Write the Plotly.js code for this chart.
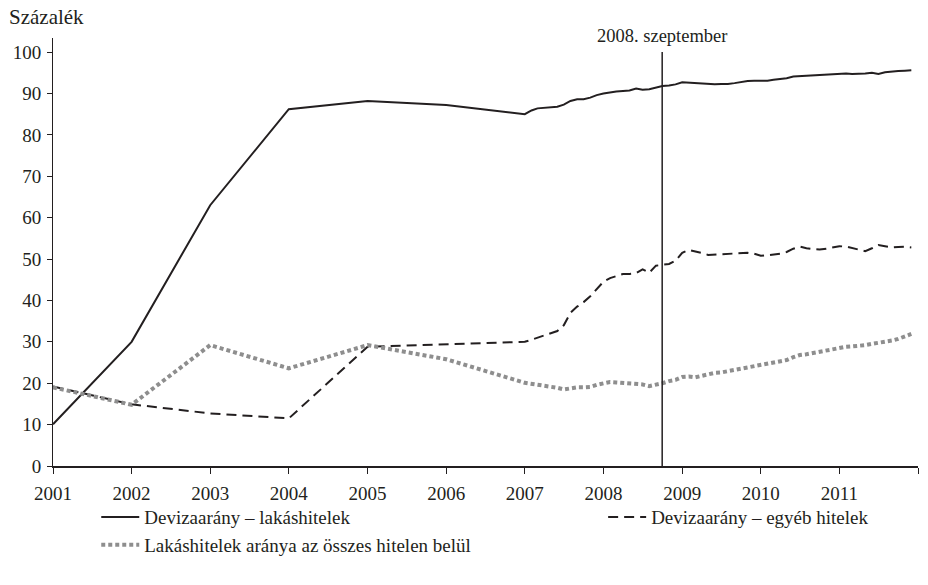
<!DOCTYPE html>
<html>
<head>
<meta charset="utf-8">
<script src="https://cdn.plot.ly/plotly-3.0.1.min.js"></script>
<style>html,body{margin:0;padding:0;background:#fff;}#chart{width:928px;height:585px;}</style>
</head>
<body>
<div id="chart"></div>
<script>
// ---- data ----
const annualDates = ['2001-01-01','2002-01-01','2003-01-01','2004-01-01','2005-01-01','2006-01-01'];
const monthlyStartYear = 2007;
const monthlyCount = 60;

const lakasAnnual = [10.1, 30.0, 63.0, 86.2, 88.2, 87.2];
const lakasMonthly = [
  85.0, 85.9, 86.4, 86.5, 86.6, 86.8, 87.3, 88.2, 88.6, 88.6, 89.0, 89.6,
  90.0, 90.3, 90.5, 90.6, 90.7, 91.2, 90.9, 91.0, 91.5, 91.8, 91.9, 92.2,
  92.7, 92.6, 92.5, 92.4, 92.2, 92.2, 92.3, 92.3, 92.5, 92.8, 93.0, 93.1,
  93.1, 93.1, 93.3, 93.5, 93.7, 94.1, 94.2, 94.3, 94.4, 94.5, 94.6, 94.7,
  94.8, 94.8, 94.7, 94.7, 94.8, 95.0, 94.7, 95.1, 95.3, 95.4, 95.5, 95.6
];

const egyebAnnual = [19.2, 14.9, 12.7, 11.5, 28.8, 29.4];
const egyebMonthly = [
  30.0, 30.5, 31.0, 31.5, 32.1, 32.6, 34.0, 37.0, 38.5, 39.6, 41.0, 42.6,
  44.5, 45.4, 45.9, 46.4, 46.4, 46.6, 47.5, 46.7, 48.4, 48.6, 48.8, 49.6,
  51.5, 52.2, 51.9, 51.5, 51.0, 51.1, 51.2, 51.2, 51.3, 51.4, 51.5, 51.3,
  50.8, 50.9, 51.1, 51.3, 51.7, 52.5, 53.0, 52.6, 52.4, 52.3, 52.5, 52.8,
  53.1, 53.0, 52.7, 52.2, 51.9, 52.6, 53.4, 53.1, 52.8, 52.9, 53.0, 52.8
];

const aranyAnnual = [19.0, 14.8, 29.2, 23.6, 29.2, 25.8];
const aranyMonthly = [
  20.1, 19.9, 19.6, 19.4, 19.2, 18.9, 18.5, 18.8, 19.0, 19.0, 19.1, 19.6,
  20.0, 20.3, 20.2, 20.1, 20.0, 20.0, 19.7, 19.3, 19.6, 20.0, 20.5, 20.8,
  21.5, 21.6, 21.4, 21.8, 22.2, 22.5, 22.6, 22.9, 23.2, 23.5, 23.8, 24.0,
  24.2, 24.5, 24.9, 25.3, 25.6, 26.3, 26.8, 27.0, 27.3, 27.6, 27.9, 28.3,
  28.6, 28.8, 28.9, 29.0, 29.2, 29.5, 29.7, 30.0, 30.3, 30.7, 31.2, 31.9
];

const seriesNames = ['Devizaarány – lakáshitelek', 'Devizaarány – egyéb hitelek', 'Lakáshitelek aránya az összes hitelen belül'];
const tickYears = ['2001','2002','2003','2004','2005','2006','2007','2008','2009','2010','2011','2012'];
const tickLabels = ['2001','2002','2003','2004','2005','2006','2007','2008','2009','2010','2011',''];
const eventDate = '2008-09-30';
const eventLabel = '2008. szeptember';
const yTitle = 'Százalék';

// ---- build ----
const monthlyDates = [];
for (let i = 0; i < monthlyCount; i++) {
  const y = monthlyStartYear + Math.floor(i / 12);
  const m = (i % 12) + 1;
  monthlyDates.push(y + '-' + String(m).padStart(2, '0') + '-01');
}
const xDates = annualDates.concat(monthlyDates);
const ink = '#231f20';
const FONT = 'Liberation Serif';

const traces = [
  {x: xDates, y: lakasAnnual.concat(lakasMonthly), name: seriesNames[0], type: 'scatter', mode: 'lines',
   line: {color: ink, width: 2}, legend: 'legend'},
  {x: xDates, y: egyebAnnual.concat(egyebMonthly), name: seriesNames[1], type: 'scatter', mode: 'lines',
   line: {color: ink, width: 2, dash: '10px,6px'}, legend: 'legend2'},
  {x: xDates, y: aranyAnnual.concat(aranyMonthly), name: seriesNames[2], type: 'scatter', mode: 'lines',
   line: {color: '#8e8e8e', width: 4, dash: '4px,3px'}, legend: 'legend'}
];

const layout = {
  width: 928, height: 585,
  margin: {l: 53, r: 10, t: 38, b: 119, autoexpand: false},
  paper_bgcolor: '#fff', plot_bgcolor: '#fff',
  font: {family: FONT, size: 19, color: ink},
  showlegend: true,
  xaxis: {
    type: 'date', range: ['2001-01-01', '2012-01-01'],
    tickmode: 'array', tickvals: tickYears.map(y => y + '-01-01'), ticktext: tickLabels,
    ticks: 'outside', ticklen: 6, tickcolor: ink, tickwidth: 1, ticklabelstandoff: 4,
    showline: true, linecolor: ink, linewidth: 1.5,
    showgrid: false, zeroline: false, fixedrange: true, automargin: false,
    tickfont: {family: FONT, size: 19, color: ink}
  },
  yaxis: {
    range: [0, 103.4], tickvals: [0,10,20,30,40,50,60,70,80,90,100],
    ticks: 'outside', ticklen: 5, tickcolor: ink, tickwidth: 1, ticklabelstandoff: 2,
    showline: true, linecolor: ink, linewidth: 1,
    showgrid: false, zeroline: false, fixedrange: true, automargin: false,
    tickfont: {family: FONT, size: 19, color: ink}
  },
  legend: {
    orientation: 'v', x: 0.05, xanchor: 'left', y: -0.075, yanchor: 'top', itemwidth: 38,
    font: {family: FONT, size: 19, color: ink}, bgcolor: 'rgba(0,0,0,0)', traceorder: 'normal'
  },
  legend2: {
    orientation: 'v', x: 0.636, xanchor: 'left', y: -0.075, yanchor: 'top', itemwidth: 38,
    font: {family: FONT, size: 19, color: ink}, bgcolor: 'rgba(0,0,0,0)'
  },
  shapes: [
    {type: 'line', xref: 'x', yref: 'y', x0: eventDate, x1: eventDate, y0: 0, y1: 100,
     line: {color: ink, width: 1.5}}
  ],
  annotations: [
    {text: yTitle, xref: 'paper', yref: 'paper', x: -0.053, y: 1.05, xanchor: 'left', yanchor: 'middle',
     showarrow: false, font: {family: FONT, size: 21, color: ink}},
    {text: eventLabel, xref: 'x', yref: 'y', x: eventDate, y: 100, xanchor: 'center', yanchor: 'bottom',
     yshift: 4, showarrow: false, font: {family: FONT, size: 18.5, color: ink}}
  ]
};

Plotly.newPlot('chart', traces, layout, {displayModeBar: false, staticPlot: true});
</script>
</body>
</html>
